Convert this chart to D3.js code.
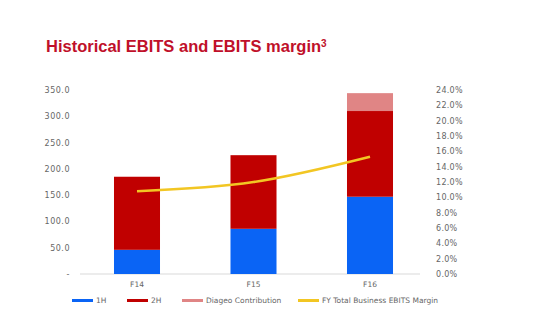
<!DOCTYPE html>
<html><head><meta charset="utf-8">
<script src="https://cdn.jsdelivr.net/npm/d3@7"></script>
<style>html,body{margin:0;padding:0;background:#fff;}svg{display:block;}</style>
</head><body>
<svg id="c" width="550" height="328"></svg>
<script>
const categories = ["F14", "F15", "F16"];
const firstHalf = [46, 86, 147];
const secondHalf = [139, 140, 163];
const diageo = [0, 0, 34];
const margin = [0.108, 0.120, 0.153];
const leftTicks = [0, 50, 100, 150, 200, 250, 300, 350];
const rightTicks = [0, 0.02, 0.04, 0.06, 0.08, 0.10, 0.12, 0.14, 0.16, 0.18, 0.20, 0.22, 0.24];
const seriesNames = ["1H", "2H", "Diageo Contribution", "FY Total Business EBITS Margin"];
const colors = ["#0a64f5", "#c00000", "#e08585", "#f2c623"];

const svg = d3.select("#c");
const font = "'DejaVu Sans', Arial, sans-serif";

svg.append("text").attr("x", 46).attr("y", 52)
  .attr("font-family", "'Liberation Sans', Arial, sans-serif").attr("font-weight", "bold")
  .attr("font-size", 16.5).attr("fill", "#c0102a")
  .text("Historical EBITS and EBITS margin").append("tspan")
  .attr("dy", -5).attr("font-size", 10).text("3");

const x = d3.scaleBand().domain(categories).range([78.75, 428.25]).paddingInner(0.605).paddingOuter(0.3025);
const y = d3.scaleLinear().domain([0, 350]).range([274, 90]);
const y2 = d3.scaleLinear().domain([0, 0.24]).range([274, 90]);

// baseline
svg.append("line").attr("x1", 80).attr("x2", 420).attr("y1", y(0)).attr("y2", y(0))
  .attr("stroke", "#d9d9d9").attr("stroke-width", 1);

const data = categories.map((c, i) => ({cat: c, h1: firstHalf[i], h2: secondHalf[i], dg: diageo[i]}));
const stack = d3.stack().keys(["h1", "h2", "dg"])(data);
stack.forEach((layer, li) => {
  svg.append("g").selectAll("rect").data(layer).join("rect")
    .attr("x", d => x(d.data.cat)).attr("width", x.bandwidth())
    .attr("y", d => y(d[1])).attr("height", d => y(d[0]) - y(d[1]))
    .attr("fill", colors[li]);
});

// left axis
const la = d3.axisLeft(y).tickValues(leftTicks).tickSize(0).tickPadding(0)
  .tickFormat(d => d === 0 ? "-" : d3.format(".1f")(d));
svg.append("g").attr("transform", "translate(70,0)").call(la)
  .call(g => g.select(".domain").remove())
  .selectAll("text").attr("font-family", font).attr("font-size", 8).attr("letter-spacing", 0.5).attr("fill", "#666");

// right axis
const ra = d3.axisRight(y2).tickValues(rightTicks).tickSize(0).tickPadding(0)
  .tickFormat(d3.format(".1%"));
svg.append("g").attr("transform", "translate(436,0)").call(ra)
  .call(g => g.select(".domain").remove())
  .selectAll("text").attr("font-family", font).attr("font-size", 8).attr("letter-spacing", 0.3).attr("fill", "#666");

// category labels
const xa = d3.axisBottom(x).tickSize(0).tickPadding(0);
svg.append("g").attr("transform", "translate(0,282)").call(xa)
  .call(g => g.select(".domain").remove())
  .selectAll("text").attr("font-family", font).attr("font-size", 7.5).attr("fill", "#666");

// line
const line = d3.line().x((d, i) => x(categories[i]) + x.bandwidth() / 2).y(d => y2(d)).curve(d3.curveMonotoneX);
svg.append("path").datum(margin).attr("d", line).attr("fill", "none")
  .attr("stroke", colors[3]).attr("stroke-width", 2.5);

// legend
const legX = [72, 127, 182, 298];
const lg = svg.append("g");
seriesNames.forEach((n, i) => {
  lg.append("line").attr("x1", legX[i]).attr("x2", legX[i] + 21).attr("y1", 300.5).attr("y2", 300.5)
    .attr("stroke", colors[i]).attr("stroke-width", 3);
  lg.append("text").attr("x", legX[i] + 24).attr("y", 303).attr("font-family", font)
    .attr("font-size", 7.5).attr("fill", "#666").text(n);
});
</script>
</body></html>
